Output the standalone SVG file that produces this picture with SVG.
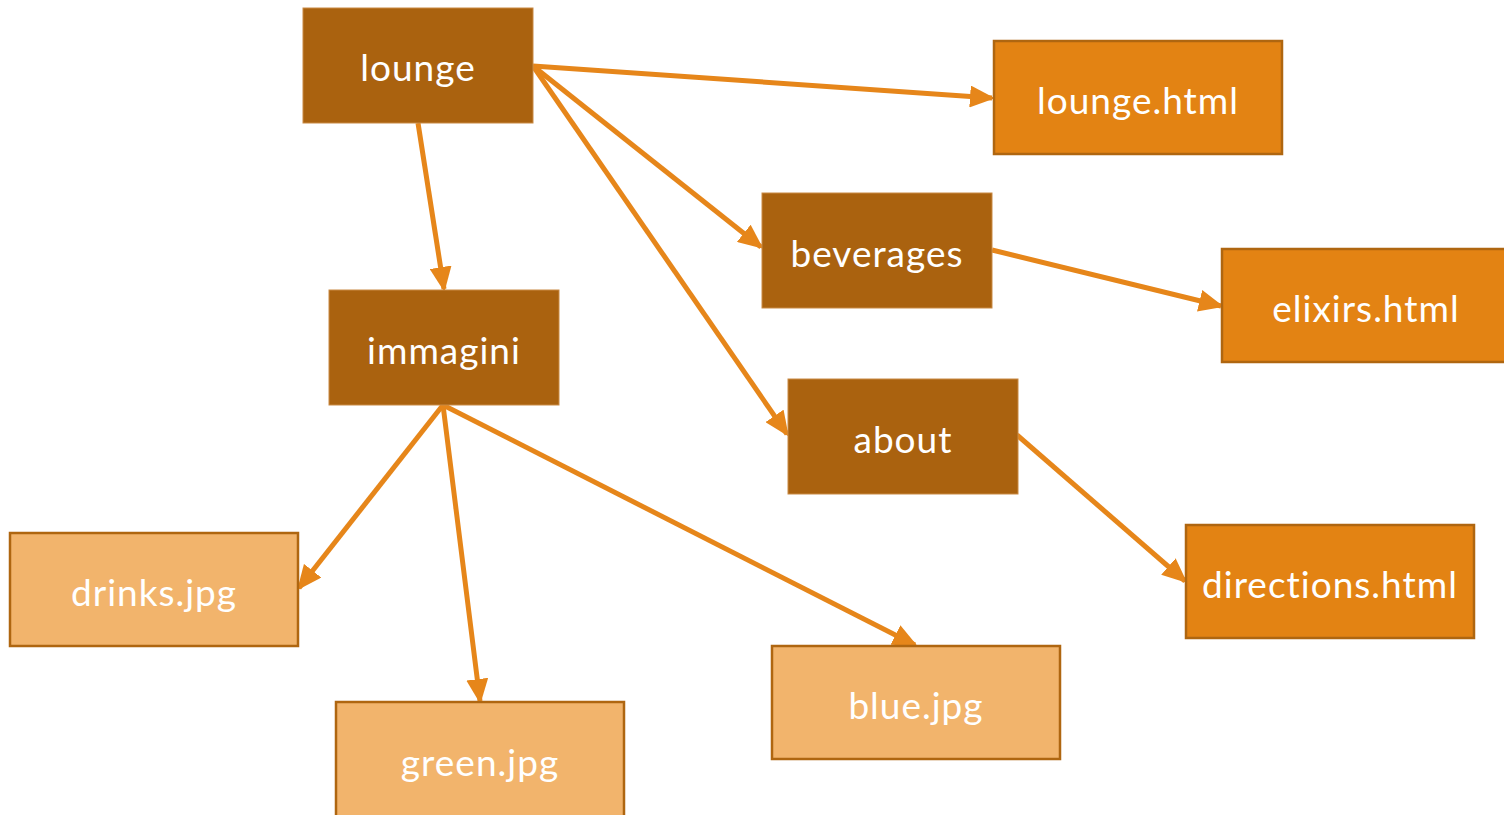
<svg xmlns="http://www.w3.org/2000/svg" width="1504" height="815" viewBox="0 0 1504 815">
  <style>
    .dark rect { fill: #AA620F; stroke: #C98A45; stroke-width: 1; }
    .mid rect { fill: #E38313; stroke: #AF6610; stroke-width: 2.5; }
    .light rect { fill: #F2B46C; stroke: #AF6610; stroke-width: 2.5; }
    text { font-family: Lato, "Liberation Sans", sans-serif; font-size: 37px; letter-spacing: 1px; fill: #FFFFFF; text-anchor: middle; dominant-baseline: central; }
    .edge { stroke: #E6861A; stroke-width: 5; fill: none; marker-end: url(#arrow); }
  </style>
  <defs>
    <marker id="arrow" markerWidth="5" markerHeight="4.4" refX="4.4" refY="2.2" orient="auto" markerUnits="strokeWidth">
      <path d="M0,0 L5,2.2 L0,4.4 Z" fill="#E6861A"/>
    </marker>
  </defs>

  <g id="connectors">
    <line class="edge" x1="533" y1="66" x2="992" y2="98"/>
    <line class="edge" x1="533" y1="66" x2="761" y2="247"/>
    <line class="edge" x1="533" y1="66" x2="787" y2="434"/>
    <line class="edge" x1="418" y1="123" x2="444" y2="289"/>
    <line class="edge" x1="992" y1="250" x2="1221" y2="306"/>
    <line class="edge" x1="1017" y1="435" x2="1185" y2="581"/>
    <line class="edge" x1="443" y1="405" x2="299" y2="588"/>
    <line class="edge" x1="443" y1="405" x2="480" y2="701"/>
    <line class="edge" x1="443" y1="405" x2="915" y2="645"/>
  </g>

  <g id="lounge" class="dark"><rect x="303" y="8" width="230" height="115"/><text x="418" y="66">lounge</text></g>
  <g id="lounge-html" class="mid"><rect x="994" y="41" width="288" height="113"/><text x="1138" y="99">lounge.html</text></g>
  <g id="beverages" class="dark"><rect x="762" y="193" width="230" height="115"/><text x="877" y="252">beverages</text></g>
  <g id="elixirs-html" class="mid"><rect x="1222" y="249" width="288" height="113"/><text x="1366" y="307">elixirs.html</text></g>
  <g id="immagini" class="dark"><rect x="329" y="290" width="230" height="115"/><text x="444" y="349">immagini</text></g>
  <g id="about" class="dark"><rect x="788" y="379" width="230" height="115"/><text x="903" y="438">about</text></g>
  <g id="directions-html" class="mid"><rect x="1186" y="525" width="288" height="113"/><text x="1330" y="583">directions.html</text></g>
  <g id="drinks-jpg" class="light"><rect x="10" y="533" width="288" height="113"/><text x="154" y="591">drinks.jpg</text></g>
  <g id="blue-jpg" class="light"><rect x="772" y="646" width="288" height="113"/><text x="916" y="704">blue.jpg</text></g>
  <g id="green-jpg" class="light"><rect x="336" y="702" width="288" height="118"/><text x="480" y="761">green.jpg</text></g>
</svg>
